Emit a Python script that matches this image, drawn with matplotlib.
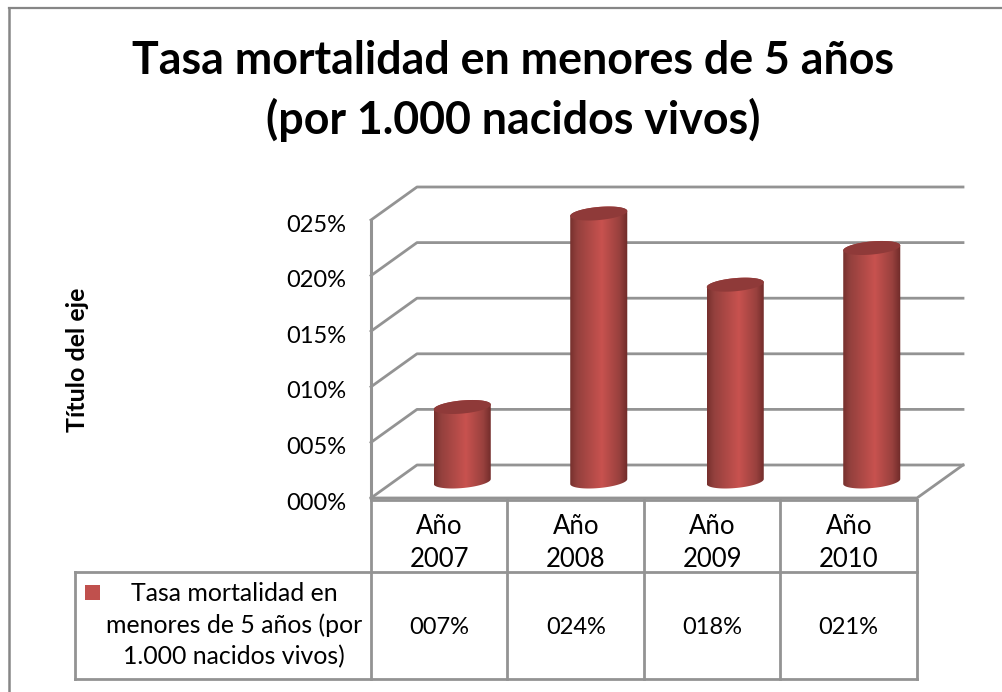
import matplotlib
matplotlib.use("Agg")
import matplotlib.pyplot as plt
import numpy as np
from matplotlib.colors import LinearSegmentedColormap
from matplotlib.patches import Polygon, Rectangle
from matplotlib.transforms import ScaledTranslation

plt.rcParams['font.family'] = ['Lato', 'DejaVu Sans']

title = "Tasa mortalidad en menores de 5 años\n(por 1.000 nacidos vivos)"
y_title = "Título del eje"
series_name = "Tasa mortalidad en\nmenores de 5 años (por\n1.000 nacidos vivos)"
years = ["Año\n2007", "Año\n2008", "Año\n2009", "Año\n2010"]
values = [6.7, 24.1, 17.7, 21.0]
y_ticks = [0, 5, 10, 15, 20, 25]

W, H = 1003, 692
GRID = "#939393"
RED = "#c0504d"

fig = plt.figure(figsize=(W / 100, H / 100), dpi=100)

# page layer in pixels, y going down
page = fig.add_axes([0, 0, 1, 1])
page.set_xlim(0, W)
page.set_ylim(H, 0)
page.axis("off")

# front plane of the 3d box
x0, x1, y0, y1 = 371, 917, 498, 220
ax = fig.add_axes([x0 / W, 1 - y0 / H, (x1 - x0) / W, (y0 - y1) / H])
ax.set_xlim(0, len(values))
ax.set_ylim(0, 25)
ax.patch.set_alpha(0)
for s in ax.spines.values():
    s.set_visible(False)
ax.set_xticks([])
ax.set_yticks(y_ticks)
ax.set_yticklabels(["%03d%%" % t for t in y_ticks], fontsize=17, color="black")
ax.tick_params(axis="y", length=0, pad=18)
for lab in ax.get_yticklabels():
    lab.set_transform(lab.get_transform() + ScaledTranslation(0, -3 / 72 * 0.72, fig.dpi_scale_trans))

# depth of the box in data units
dx = 46 / ((x1 - x0) / len(values))
dy = 33 / ((y0 - y1) / 25)
n = len(values)

for t in y_ticks:
    ax.plot([0, dx, n + dx], [t, t + dy, t + dy], color=GRID, lw=2, clip_on=False, zorder=1)
ax.plot([0, 0], [0, 25], color=GRID, lw=2.2, clip_on=False, zorder=1)
ax.plot([0, n, n + dx], [0, 0, dy], color=GRID, lw=2, clip_on=False, zorder=1)

# cylinders
ux = 26.7 / ((x1 - x0) / n)
ax_ = 10 / ((x1 - x0) / n)
by = 7 / ((y0 - y1) / 25)
t0 = np.arctan2(ax_, ux)
front = np.linspace(t0 + np.pi, t0 + 2 * np.pi, 60)
back = np.linspace(t0, t0 + np.pi, 60)
all_t = np.linspace(0, 2 * np.pi, 120)
shade = LinearSegmentedColormap.from_list(
    "cyl", [(0, "#76302d"), (0.12, "#93403d"), (0.55, "#c8524f"), (0.85, "#99413e"), (1, "#6e2a28")])
grad = np.linspace(0, 1, 256).reshape(1, -1)

for i, v in enumerate(values):
    cx = i + 0.5 + dx / 2
    cy = dy / 2
    body = np.column_stack([
        np.r_[cx + ux * np.cos(front) + ax_ * np.sin(front), cx + ux * np.cos(back) + ax_ * np.sin(back)],
        np.r_[cy + by * np.sin(front), cy + v + by * np.sin(back)],
    ])
    clip = Polygon(body, transform=ax.transData, facecolor="none", edgecolor="none", clip_on=False)
    ax.add_patch(clip)
    half = np.hypot(ux, ax_)
    im = ax.imshow(grad, cmap=shade, aspect="auto", zorder=3,
                   extent=[cx - half, cx + half, 0, cy + v + by * 2])
    im.set_clip_path(clip)
    im.set_clip_box(fig.bbox)  # the top of the 2008 bar goes above the axes
    top = np.column_stack([cx + ux * np.cos(all_t) + ax_ * np.sin(all_t), cy + v + by * np.sin(all_t)])
    ax.add_patch(Polygon(top, facecolor="#8f3a39", edgecolor="none", zorder=4, clip_on=False))
ax.set_xlim(0, n)
ax.set_ylim(0, 25)

# data table under the plot
row0, row1, row2 = 500, 572, 679
table_x = [x0 + (x1 - x0) * i / n for i in range(n + 1)]
for x in table_x:
    page.plot([x, x], [row0, row2], color=GRID, lw=2)
page.plot([x0, x1], [row0, row0], color=GRID, lw=2)
page.plot([75, x1], [row1, row1], color=GRID, lw=2)
page.plot([75, x1], [row2, row2], color=GRID, lw=2)
page.plot([75, 75], [row1, row2], color=GRID, lw=2)

for i in range(n):
    xc = (table_x[i] + table_x[i + 1]) / 2
    page.text(xc, 543, years[i], ha="center", va="center", fontsize=18.5, linespacing=1.4)
    page.text(xc, 627, "%03.0f%%" % values[i], ha="center", va="center", fontsize=17)

page.add_patch(Rectangle((85, 585), 15, 15, facecolor=RED, edgecolor="none"))
page.text(234, 625, series_name, ha="center", va="center", fontsize=17.9, linespacing=1.42)

page.text(513, 91, title, ha="center", va="center", fontsize=32.2, fontweight="bold", linespacing=1.42)
page.text(78, 360, y_title, ha="center", va="center", rotation=90, fontsize=18, fontweight="bold")

# only the top and left edges of the chart frame are in the picture
page.plot([9, W], [7.5, 7.5], color="#868686", lw=1.6)
page.plot([9, 9], [7.5, H], color="#868686", lw=1.8)

fig.savefig("out.png", dpi=100)
